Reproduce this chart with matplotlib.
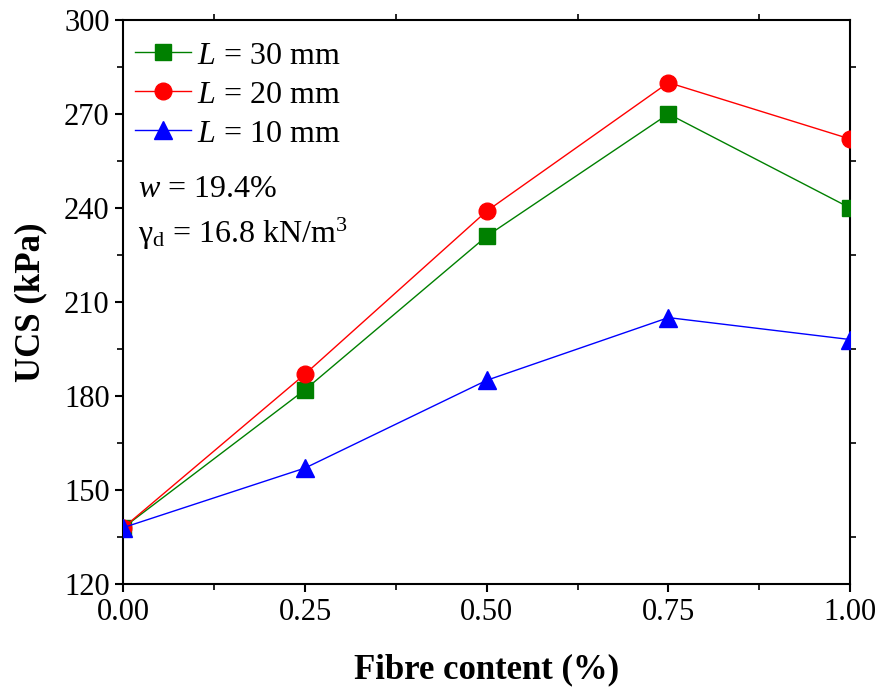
import matplotlib.pyplot as plt
import numpy as np
from matplotlib.ticker import MultipleLocator

plt.rcParams['font.family'] = ['Liberation Serif', 'DejaVu Serif']
plt.rcParams['mathtext.fontset'] = 'custom'
plt.rcParams['mathtext.rm'] = 'Liberation Serif'
plt.rcParams['mathtext.it'] = 'Liberation Serif:italic'

fibre = [0.0, 0.25, 0.50, 0.75, 1.00]
ucs_30 = [138, 182, 231, 270, 240]
ucs_20 = [138, 187, 239, 280, 262]
ucs_10 = [138, 157, 185, 205, 198]

fig = plt.figure(figsize=(8.8, 6.87), dpi=100)
ax = fig.add_axes([0.1403, 0.150, 0.8257, 0.821])

ax.plot(fibre, ucs_30, '-s', color='#008000', lw=1, ms=11, label='$L$ = 30 mm', zorder=3)
ax.plot(fibre, ucs_20, '-o', color='#ff0000', lw=1, ms=12, label='$L$ = 20 mm', zorder=3)
ax.plot(fibre, ucs_10, '-^', color='#0000ff', lw=1, ms=13, label='$L$ = 10 mm', zorder=4)

ax.set_xlim(0, 1)
ax.set_ylim(120, 300)
ax.xaxis.set_major_locator(MultipleLocator(0.25))
ax.xaxis.set_minor_locator(MultipleLocator(0.125))
ax.yaxis.set_major_locator(MultipleLocator(30))
ax.yaxis.set_minor_locator(MultipleLocator(15))
ax.set_xticklabels([f'{v:.2f}' for v in ax.get_xticks()])

for s in ax.spines.values():
    s.set_linewidth(1.5)
ax.tick_params(which='major', direction='out', length=6, width=1.5, labelsize=22, pad=4)
ax.tick_params(which='minor', direction='out', length=4, width=1.2)
ax.tick_params(which='both', top=True, right=True)
ax.tick_params(which='major', top=False, right=False)

ax.set_xlabel('Fibre content (%)', fontsize=25, fontweight='bold', labelpad=19)
ax.set_ylabel('UCS (kPa)', fontsize=25, fontweight='bold', labelpad=12)

leg = ax.legend(loc='upper left', fontsize=23, frameon=False, handlelength=1.75,
                handletextpad=0.2, labelspacing=0.3, borderaxespad=0.15,
                borderpad=0.2, bbox_to_anchor=(0.0, 0.982))

ax.text(0.02, 0.70, '$w$ = 19.4%', transform=ax.transAxes, fontsize=23, va='center')
ax.text(0.02, 0.62, r'$\mathregular{\gamma_d}$ = 16.8 kN/m$^\mathregular{3}$',
        transform=ax.transAxes, fontsize=23, va='center')

fig.savefig('out.png', dpi=100)
